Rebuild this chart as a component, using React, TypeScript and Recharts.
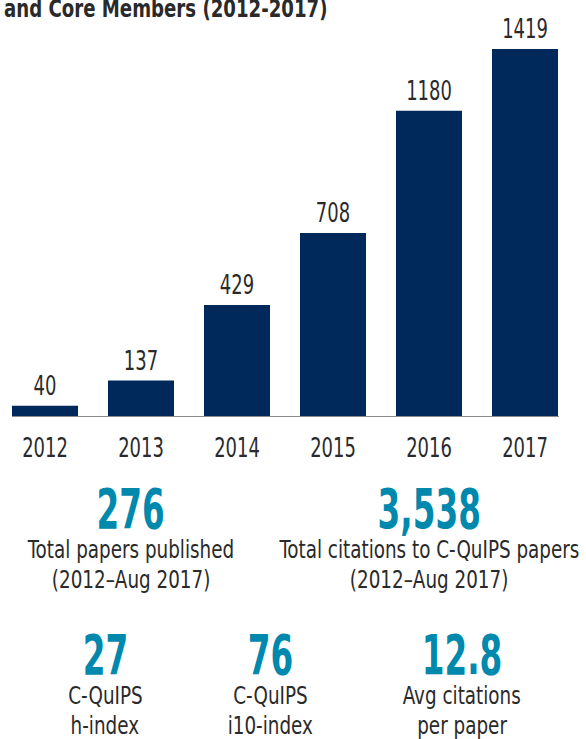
import React from "react";
import { BarChart, Bar, XAxis, YAxis, LabelList } from "recharts";

// citations per year
const years = ["2012", "2013", "2014", "2015", "2016", "2017"];
const citations = [40, 137, 429, 708, 1180, 1419];

const topStats = ["276", "3,538"];
const topLabels = [
  ["Total papers published", "(2012–Aug 2017)"],
  ["Total citations to C-QuIPS papers", "(2012–Aug 2017)"],
];
const bottomStats = ["27", "76", "12.8"];
const bottomLabels = [
  ["C-QuIPS", "h-index"],
  ["C-QuIPS", "i10-index"],
  ["Avg citations", "per paper"],
];

const data = years.map((y, i) => ({ year: y, value: citations[i] }));

const FONT = "'DejaVu Sans Condensed', 'DejaVu Sans', sans-serif";
const NAVY = "#00295b";
const TEAL = "#0089ad";
const TXT = "#2a2a2a";
const SQUEEZE = 0.74;

const YearTick = (props: any) => {
  const { x, y, payload } = props;
  return (
    <text
      transform={`translate(${x},${y + 41}) scale(${SQUEEZE},1)`}
      textAnchor="middle"
      fill={TXT}
      fontSize={27}
      fontFamily={FONT}
    >
      {payload.value}
    </text>
  );
};

const ValueLabel = (props: any) => {
  const { x, y, width, value } = props;
  return (
    <text
      transform={`translate(${Number(x) + Number(width) / 2},${Number(y) - 11}) scale(${SQUEEZE},1)`}
      textAnchor="middle"
      fill={TXT}
      fontSize={27}
      fontFamily={FONT}
    >
      {value}
    </text>
  );
};

// one line of html text, narrowed horizontally around its centre
const Line = ({ text, cx, w, top, size, lh, bold, color, sx }: any) => (
  <div
    style={{
      position: "absolute",
      left: cx - w / 2,
      width: w,
      top,
      height: lh,
      display: "flex",
      justifyContent: "center",
      fontFamily: FONT,
      fontSize: size,
      lineHeight: `${lh}px`,
      fontWeight: bold ? 700 : 400,
      color,
      whiteSpace: "nowrap",
    }}
  >
    <span style={{ display: "inline-block", transform: `scaleX(${sx})` }}>{text}</span>
  </div>
);

const Stat = ({ value, lines, cx, w, top }: { value: string; lines: string[]; cx: number; w: number; top: number }) => (
  <>
    <Line text={value} cx={cx} w={w} top={top} size={55} lh={50} bold color={TEAL} sx={0.66} />
    {lines.map((l, i) => (
      <Line key={l} text={l} cx={cx} w={w} top={top + 51 + i * 30} size={25.5} lh={28} color={TXT} sx={0.8} />
    ))}
  </>
);

export default function App() {
  return (
    <div style={{ position: "absolute", left: 0, top: 0, width: 586, height: 739, overflow: "hidden", background: "#fff" }}>
      <div
        style={{
          position: "absolute",
          left: 4,
          top: 0,
          fontFamily: FONT,
          fontWeight: 700,
          fontSize: 24,
          lineHeight: "18px",
          color: TXT,
          whiteSpace: "nowrap",
          transform: "scaleX(0.84)",
          transformOrigin: "left top",
        }}
      >
        and Core Members (2012-2017)
      </div>
      <div style={{ position: "absolute", left: -3, top: 0 }}>
        <BarChart width={576} height={470} data={data} margin={{ top: 49, right: 0, bottom: 0, left: 0 }}>
          <YAxis hide domain={[0, 1419]} />
          <XAxis
            dataKey="year"
            height={54}
            axisLine={false}
            tickLine={false}
            tickSize={0}
            tickMargin={0}
            tick={<YearTick />}
          />
          <Bar dataKey="value" fill={NAVY} barSize={66} isAnimationActive={false}>
            <LabelList dataKey="value" content={<ValueLabel />} />
          </Bar>
        </BarChart>
      </div>
      {/* baseline under the bars */}
      <div style={{ position: "absolute", left: 12, top: 416, width: 547, height: 0, borderTop: "1.5px solid #8a8a8a" }} />
      {topStats.map((v, i) => (
        <Stat key={v} value={v} lines={topLabels[i]} cx={[131, 429][i]} w={290} top={484} />
      ))}
      {bottomStats.map((v, i) => (
        <Stat key={v} value={v} lines={bottomLabels[i]} cx={[105, 270, 462][i]} w={160} top={630} />
      ))}
    </div>
  );
}
